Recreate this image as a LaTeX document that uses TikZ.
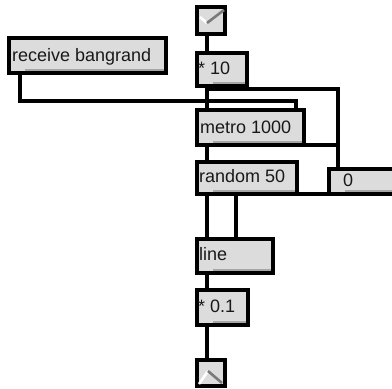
\documentclass[tikz,border=0pt]{standalone}
\usepackage{fontspec}
\setmainfont{Liberation Sans}
\usetikzlibrary{calc}
\definecolor{boxgrey}{HTML}{DCDCDC}
\definecolor{shadegrey}{HTML}{A6A6A6}
\definecolor{checkgrey}{HTML}{7A7A7A}
\begin{document}
\begin{tikzpicture}[x=1pt,y=-1pt,
  maxbox/.style={draw=black, line width=4pt, fill=boxgrey, rectangle, inner sep=0pt, outer sep=0pt, anchor=north west},
  lbl/.style={anchor=base west, inner sep=0pt, font=\fontsize{18}{20}\selectfont, text=black!90},
  cord/.style={line width=4pt, line join=miter},
  shadeline/.style={draw=shadegrey, line width=2pt},
  checkw/.style={draw=white, line width=2.6pt},
  checkg/.style={draw=checkgrey, line width=2.6pt}]
\useasboundingbox (0,0) rectangle (392,389);
\fill[white] (0,0) rectangle (392,389);
\newcommand{\boxshade}[1]{\draw[shadeline] ($(#1.south west)+(16,-3)$) -- ($(#1.south east)+(-2,-3)$);}
% boxes
\node[maxbox, minimum width=28pt, minimum height=27pt] (toggleA) at (197,7) {};
\node[maxbox, minimum width=157pt, minimum height=35pt] (receive) at (9,38) {};
\node[maxbox, minimum width=50pt, minimum height=33pt] (mulA) at (197,53) {};
\node[maxbox, minimum width=107pt, minimum height=35pt] (metro) at (197,110) {};
\node[maxbox, minimum width=100pt, minimum height=32pt] (random) at (197,162) {};
\node[maxbox, minimum width=70pt, minimum height=25pt] (zero) at (329,169) {};
\node[maxbox, minimum width=76pt, minimum height=34pt] (line) at (197,239) {};
\node[maxbox, minimum width=51pt, minimum height=35pt] (mulB) at (197,290) {};
\node[maxbox, minimum width=28pt, minimum height=26pt] (toggleB) at (197,360) {};
\boxshade{receive}
\boxshade{mulA}
\boxshade{metro}
\boxshade{random}
\boxshade{zero}
\boxshade{line}
\boxshade{mulB}
% labels
\node[lbl] (treceive) at (12,61) {receive bangrand};
\node[lbl] (tmulA) at (198,74) {* 10};
\node[lbl] (tmetro) at (200,133) {metro 1000};
\node[lbl] (trandom) at (199,182) {random 50};
\node[lbl] (tzero) at (343,186) {0};
\node[lbl] (tline) at (199,260) {line};
\node[lbl] (tmulB) at (198,312) {* 0.1};
% toggle glyphs
\draw[checkw] ($(toggleA.north west)+(3,10)$) -- ($(toggleA.north west)+(10,16)$);
\draw[checkg] ($(toggleA.north west)+(10,16)$) -- ($(toggleA.north west)+(27,3)$);
\draw[checkw] ($(toggleB.north west)+(2,24)$) -- ($(toggleB.north west)+(11,11)$);
\draw[checkg] ($(toggleB.north west)+(11,11)$) -- ($(toggleB.north west)+(25,23)$);
% cords
\draw[cord] ($(toggleA.south west)+(10,0)$) -- ($(mulA.north west)+(10,0)$);
\draw[cord] ($(receive.south west)+(11,0)$) |- ($(metro.north west)+(99,-9)$) -- ($(metro.north west)+(99,0)$);
\draw[cord] ($(mulA.south west)+(10,0)$) -- ($(metro.north west)+(10,0)$);
\draw[cord] ($(mulA.south west)+(10,3)$) -| ($(zero.north west)+(9,0)$);
\draw[cord] (metro.south east) -- ($(zero.north west)+(9,-24)$);
\draw[cord] ($(metro.south west)+(10,0)$) -- ($(random.north west)+(10,0)$);
\draw[cord] ($(random.south west)+(10,0)$) -- ($(line.north west)+(10,0)$);
\draw[cord] (zero.south west) -- ($(line.north west)+(39,-45)$) -- ($(line.north west)+(39,0)$);
\draw[cord] ($(line.south west)+(10,0)$) -- ($(mulB.north west)+(10,0)$);
\draw[cord] ($(mulB.south west)+(10,0)$) -- ($(toggleB.north west)+(10,0)$);
\end{tikzpicture}
\end{document}
